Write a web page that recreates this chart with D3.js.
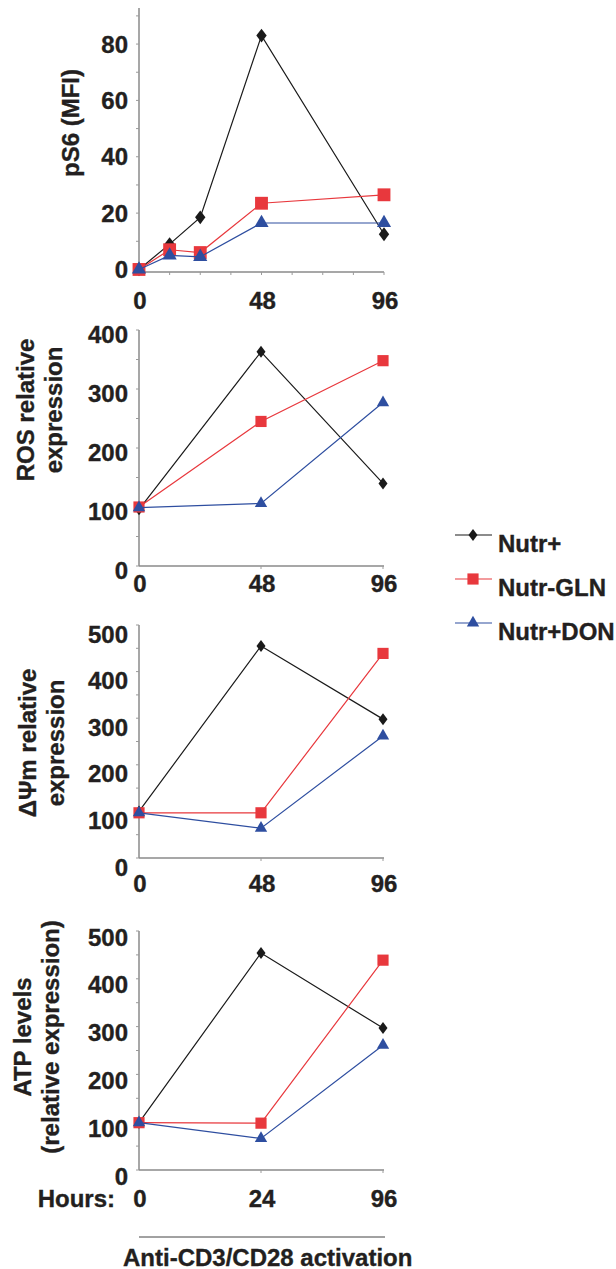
<!DOCTYPE html>
<html>
<head>
<meta charset="utf-8">
<script src="https://cdn.jsdelivr.net/npm/d3@7"></script>
<style>
  body { margin: 0; background: #fff; }
  text { font-family: "Liberation Sans", Arial, sans-serif; font-weight: bold; fill: #231f20; stroke: #231f20; stroke-width: 0.35px; }
</style>
</head>
<body>
<div id="chart"></div>
<script>
// series names and colours
const seriesNames = ["Nutr+", "Nutr-GLN", "Nutr+DON"];
const seriesColors = ["#1a1a1a", "#e8383d", "#2e4ea0"];

// panel 1: pS6
const hoursPS6 = [0, 12, 24, 48, 96];
const hoursPS6Labels = [0, 48, 96];
const ps6NutrPlus = [0, 9, 18.5, 83, 12.5];
const ps6NutrGln = [0, 7, 6, 23.5, 26.5];
const ps6NutrDon = [0, 5, 4.5, 16.5, 16.5];
const ps6Ticks = [0, 20, 40, 60, 80];

// panel 2: ROS
const hoursROS = ["0", "48", "96"];
const rosNutrPlus = [96, 363, 140];
const rosNutrGln = [100, 245, 348];
const rosNutrDon = [99, 106, 277];
const rosTicks = [0, 100, 200, 300, 400];

// panel 3: delta psi m
const hoursDPsi = ["0", "48", "96"];
const dpsiNutrPlus = [100, 455, 298];
const dpsiNutrGln = [97, 97, 439];
const dpsiNutrDon = [97, 64, 262];
const dpsiTicks = [0, 100, 200, 300, 400, 500];

// panel 4: ATP
const hoursATP = ["0", "24", "96"];
const atpNutrPlus = [99, 454, 297];
const atpNutrGln = [99, 98, 439];
const atpNutrDon = [99, 66, 261];
const atpTicks = [0, 100, 200, 300, 400, 500];

const width = 616;
const height = 1269;
const xLeft = 139;
const xRight = 384;
const fontSize = "24px";

const svg = d3.select("#chart")
    .append("svg")
    .attr("width", width)
    .attr("height", height);

// markers, one per series
function marker(i, big) {
    const s = big ? 1.15 : 1;
    if (i === 0) return "M0," + (-6 * s) + "L" + (4.5 * s) + ",0L0," + (6 * s) + "L" + (-4.5 * s) + ",0Z";
    if (i === 1) return d3.symbol(d3.symbolSquare, 125 * s * s)();
    return d3.symbol(d3.symbolTriangle, 66 * s * s)();
}

function drawPanel(p) {
    const y = d3.scaleLinear().domain(p.yDomain).range([p.bottom, p.top]);
    let x;
    if (p.linear) {
        x = d3.scaleLinear().domain([0, 96]).range([xLeft, xRight]);
    } else {
        x = d3.scalePoint().domain(p.hours).range([xLeft, xRight - 1]);
    }
    const g = svg.append("g");

    // y axis line and minor ticks
    g.append("line")
        .attr("x1", xLeft).attr("x2", xLeft)
        .attr("y1", p.top).attr("y2", y(p.yDomain[0]))
        .attr("stroke", "#8a8a8a").attr("stroke-width", 1.5);
    g.selectAll(".ytick")
        .data(d3.range(0, p.yDomain[1] + 0.01, p.minor))
        .enter().append("line")
        .attr("x1", xLeft - 3).attr("x2", xLeft)
        .attr("y1", d => y(d)).attr("y2", d => y(d))
        .attr("stroke", "#9a9a9a");
    g.selectAll(".ylab")
        .data(p.ticks)
        .enter().append("text")
        .attr("x", 128)
        .attr("y", d => y(d) + p.labelShift)
        .attr("text-anchor", "end")
        .attr("dominant-baseline", "central")
        .style("font-size", fontSize)
        .text(d => d);

    // x axis
    const yAxisPos = y(p.yDomain[0]);
    g.append("line")
        .attr("x1", xLeft).attr("x2", xRight)
        .attr("y1", yAxisPos).attr("y2", yAxisPos)
        .attr("stroke", "#8a8a8a").attr("stroke-width", 1.5);
    const xTicks = p.linear ? d3.range(12, 97, 12) : p.hours.slice(1);
    g.selectAll(".xtick")
        .data(xTicks)
        .enter().append("line")
        .attr("x1", d => x(d)).attr("x2", d => x(d))
        .attr("y1", yAxisPos).attr("y2", yAxisPos + 3)
        .attr("stroke", "#9a9a9a");
    g.selectAll(".xlab")
        .data(p.linear ? hoursPS6Labels : p.hours)
        .enter().append("text")
        .attr("x", d => x(d) + 1)
        .attr("y", yAxisPos + p.xLabelShift)
        .attr("text-anchor", "middle")
        .attr("dominant-baseline", "central")
        .style("font-size", fontSize)
        .text(d => d);

    // y axis title (one or two lines)
    p.title.forEach((t, k) => {
        g.append("text")
            .attr("transform", `translate(${p.titleX[k]},${p.titleY}) rotate(-90)`)
            .attr("text-anchor", "middle")
            .attr("dominant-baseline", "central")
            .style("font-size", fontSize)
            .text(t);
    });

    // series
    const line = d3.line()
        .x(d => x(d[0]))
        .y(d => y(d[1]));
    p.series.forEach((vals, i) => {
        const pts = p.hours.map((h, j) => [h, vals[j]]);
        g.append("path")
            .datum(pts)
            .attr("d", line)
            .attr("fill", "none")
            .attr("stroke", seriesColors[i])
            .attr("stroke-width", 1.2);
        g.selectAll(".m" + i)
            .data(pts)
            .enter().append("path")
            .attr("d", marker(i, p.linear))
            .attr("transform", d => `translate(${x(d[0])},${y(d[1])})`)
            .attr("fill", seriesColors[i]);
    });
}

drawPanel({
    linear: true, hours: hoursPS6, series: [ps6NutrPlus, ps6NutrGln, ps6NutrDon],
    yDomain: [-0.9, 92.8], top: 8, bottom: 272, minor: 10, ticks: ps6Ticks,
    labelShift: 0, xLabelShift: 28,
    title: ["pS6 (MFI)"], titleX: [70], titleY: 123
});
drawPanel({
    linear: false, hours: hoursROS, series: [rosNutrPlus, rosNutrGln, rosNutrDon],
    yDomain: [0, 400], top: 330, bottom: 566, minor: 50, ticks: rosTicks,
    labelShift: 4, xLabelShift: 17,
    title: ["ROS relative", "expression"], titleX: [25, 53], titleY: 410
});
drawPanel({
    linear: false, hours: hoursDPsi, series: [dpsiNutrPlus, dpsiNutrGln, dpsiNutrDon],
    yDomain: [0, 500], top: 625, bottom: 858, minor: 50, ticks: dpsiTicks,
    labelShift: 9, xLabelShift: 25,
    title: ["ΔΨm relative", "expression"], titleX: [27, 55], titleY: 743
});
drawPanel({
    linear: false, hours: hoursATP, series: [atpNutrPlus, atpNutrGln, atpNutrDon],
    yDomain: [0, 500], top: 931, bottom: 1170, minor: 50, ticks: atpTicks,
    labelShift: 6, xLabelShift: 28,
    title: ["ATP levels", "(relative expression)"], titleX: [22, 50], titleY: 1037
});

// legend
const legend = svg.append("g");
seriesNames.forEach((name, i) => {
    const ly = 535 + i * 44;
    legend.append("line")
        .attr("x1", 455).attr("x2", 492)
        .attr("y1", ly).attr("y2", ly)
        .attr("stroke", seriesColors[i]).attr("stroke-width", 1.2);
    legend.append("path")
        .attr("d", marker(i, false))
        .attr("transform", `translate(473,${ly})`)
        .attr("fill", seriesColors[i]);
    legend.append("text")
        .attr("x", 498)
        .attr("y", ly + 8)
        .attr("dominant-baseline", "central")
        .style("font-size", fontSize)
        .text(name);
});

// bottom labels
svg.append("text")
    .attr("x", 115).attr("y", 1198)
    .attr("text-anchor", "end")
    .attr("dominant-baseline", "central")
    .style("font-size", fontSize)
    .text("Hours:");
svg.append("line")
    .attr("x1", 139).attr("x2", 385)
    .attr("y1", 1237).attr("y2", 1237)
    .attr("stroke", "#444").attr("stroke-width", 1);
svg.append("text")
    .attr("x", 123).attr("y", 1257)
    .attr("dominant-baseline", "central")
    .style("font-size", fontSize)
    .text("Anti-CD3/CD28 activation");
</script>
</body>
</html>
